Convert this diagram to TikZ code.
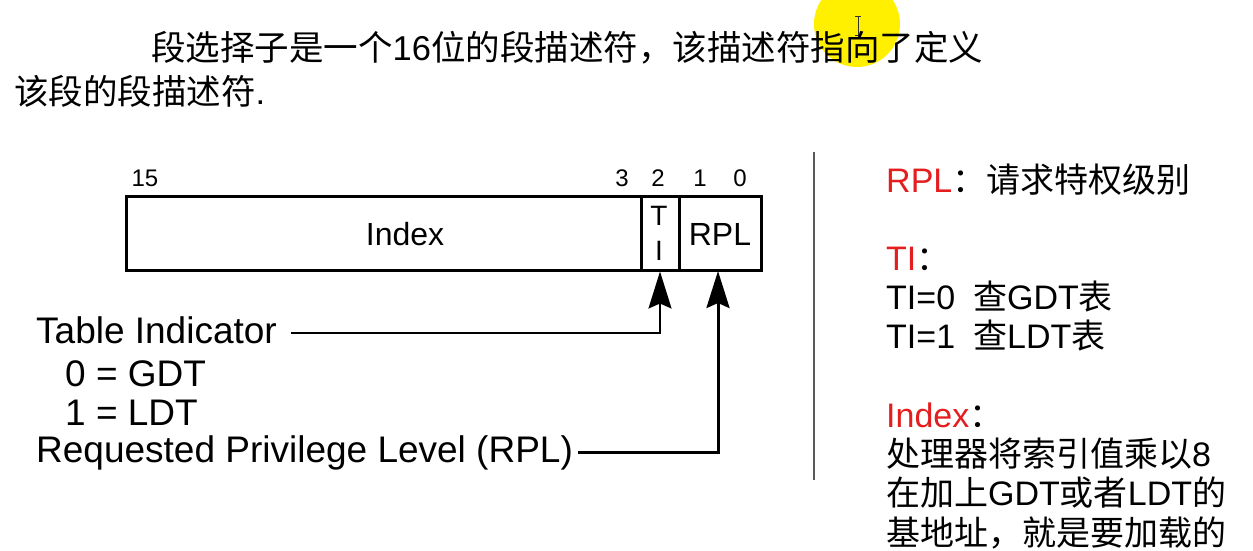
\documentclass[tikz,border=0pt]{standalone}
\usepackage{fontspec}
\setmainfont{Liberation Sans}
\newfontfamily\cjk{Noto Sans CJK SC}
\usetikzlibrary{arrows.meta}
\definecolor{lblred}{RGB}{228,30,30}
\definecolor{hiyellow}{RGB}{255,240,0}
\begin{document}
\begin{tikzpicture}[x=1pt,y=-1pt,
  cell/.style={draw,line width=3pt,inner sep=0pt,minimum height=74pt},
  topnum/.style={font=\fontsize{24}{28}\selectfont},
  boxtext/.style={font=\fontsize{32}{36}\selectfont},
  lefttext/.style={anchor=base west,inner sep=0pt,font=\fontsize{37}{42}\selectfont},
  righttext/.style={anchor=base west,inner sep=0pt,font=\fontsize{34}{39}\selectfont},
  toptext/.style={anchor=base west,inner sep=0pt,font=\fontsize{34.5}{40}\selectfont},
  bigarrow/.style={-{Stealth[length=37pt,width=23pt,inset=5pt]}}]
\useasboundingbox (0,0) rectangle (1253,551);
\clip (0,0) rectangle (1253,551);
% cursor highlight
\fill[hiyellow] (857,24) circle (43);
\draw[line width=1pt,black!80] (858,17) -- (858,36) (855,17) -- (861,17) (855,36) -- (861,36);
% top text
\node[toptext] (t1) at (151,60) {{\cjk 段选择子是一个}16{\cjk 位的段描述符，该描述符指向了定义}};
\node[toptext] (t2) at (14,104) {{\cjk 该段的段描述符}.};
% selector box
\node[cell,minimum width=515pt] (idx) at (383.5,233) {};
\node[cell,minimum width=38pt] (ti) at (660,233) {};
\node[cell,minimum width=82pt] (rpl) at (720,233) {};
\node[boxtext] (idxl) at (405,234) {Index};
\node[font=\fontsize{28}{30}\selectfont,inner sep=0pt] (tiT) at (659,216) {T};
\node[font=\fontsize{28}{30}\selectfont,inner sep=0pt] (tiI) at (659,251) {I};
\node[boxtext] (rpll) at (720,234) {RPL};
% bit numbers
\node[topnum] (b15) at (145,178) {15};
\node[topnum] (b3) at (622,178) {3};
\node[topnum] (b2) at (658,178) {2};
\node[topnum] (b1) at (700,178) {1};
\node[topnum] (b0) at (740,178) {0};
% left labels
\node[lefttext] (tilab) at (36,343) {Table Indicator};
\node[lefttext] (g0) at (65,386) {0 = GDT};
\node[lefttext] (g1) at (65,425) {1 = LDT};
\node[lefttext] (rpllab) at (36,462) {Requested Privilege Level (RPL)};
% connectors
\coordinate (tistart) at (291,333);
\coordinate (rplstart) at (578,452);
\coordinate (rpltip) at (718,271);
\draw[bigarrow,line width=2pt] (tistart) -- (660,333) -- (ti.south);
\draw[bigarrow,line width=3pt] (rplstart) -- (718,452) -- (rpltip);
% separator
\draw[line width=1.8pt,black!65] (814,152) -- (814,480);
% right notes
\node[righttext] (r1) at (886,192) {\textcolor{lblred}{RPL}{\cjk ：请求特权级别}};
\node[righttext] (r2) at (886,270) {\textcolor{lblred}{TI}{\cjk ：}};
\node[righttext] (r3) at (886,309) {TI=0\hspace{18pt}{\cjk 查}GDT{\cjk 表}};
\node[righttext] (r4) at (886,348) {TI=1\hspace{18pt}{\cjk 查}LDT{\cjk 表}};
\node[righttext] (r5) at (886,427) {\textcolor{lblred}{Index}{\cjk ：}};
\node[righttext] (r6) at (886,466) {{\cjk 处理器将索引值乘以}8};
\node[righttext] (r7) at (886,505) {{\cjk 在加上}GDT{\cjk 或者}LDT{\cjk 的}};
\node[righttext] (r8) at (886,545) {{\cjk 基地址，就是要加载的}};
\end{tikzpicture}
\end{document}
